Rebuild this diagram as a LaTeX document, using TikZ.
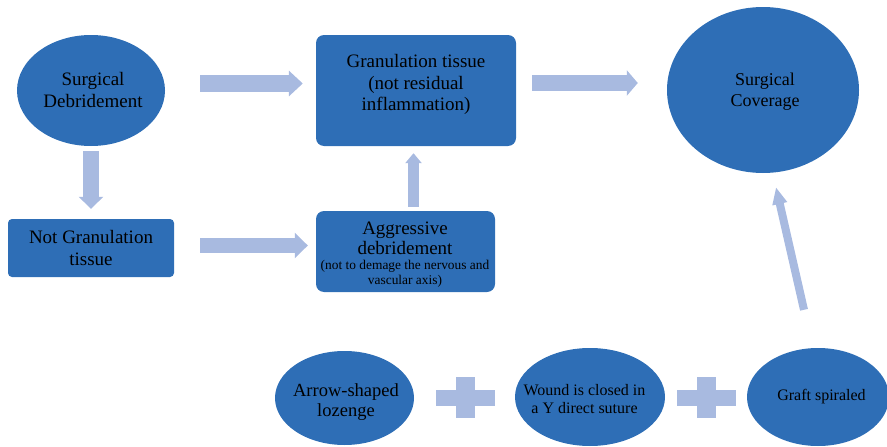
\documentclass[tikz,border=0pt]{standalone}
\usepackage{fontspec}
\setmainfont{Liberation Serif}
\usetikzlibrary{shapes.geometric,arrows.meta,calc}
\definecolor{boxblue}{RGB}{46,110,182}
\definecolor{arrowblue}{RGB}{168,186,224}
\begin{document}
\begin{tikzpicture}[x=1pt,y=-1pt,
  oval/.style={ellipse, fill=boxblue, inner sep=0pt},
  rbox/.style={rectangle, rounded corners=8pt, fill=boxblue, inner sep=0pt},
  txt/.style={align=center, text=black, inner sep=0pt},
  big/.style={font=\fontsize{19}{21.5}\selectfont},
  plusbar/.style={rectangle, fill=arrowblue, inner sep=0pt},
  barrow/.style n args={3}{draw=arrowblue, line width=#1pt, -{Triangle[width=#2pt,length=#3pt]}}
]
\useasboundingbox (0,0) rectangle (887,447);

% shapes
\node[oval, minimum width=148pt, minimum height=111pt] (e1) at (91,90.5) {};
\node[rbox, minimum width=200pt, minimum height=111pt] (g) at (416,90.5) {};
\node[oval, minimum width=192pt, minimum height=166pt] (cov) at (763,90) {};
\node[rbox, rounded corners=4pt, minimum width=166pt, minimum height=58pt] (ng) at (91,248) {};
\node[rbox, minimum width=179pt, minimum height=81pt] (ag) at (405.5,251.5) {};
\node[oval, minimum width=139pt, minimum height=94pt] (ea) at (344.5,398) {};
\node[oval, minimum width=150pt, minimum height=98pt] (eb) at (590,397) {};
\node[oval, minimum width=142pt, minimum height=98pt] (ec) at (818,397) {};

% texts
\node[txt, big] (e1t) at (93,90) {Surgical\\Debridement};
\node[txt, big] (gt) at (416,84.5) {Granulation tissue\\(not residual\\inflammation)};
\node[txt, font=\fontsize{18}{21}\selectfont] (covt) at (765,92) {Surgical\\Coverage};
\node[txt, big] (ngt) at (91,248) {Not Granulation\\tissue};
\node[txt, font=\fontsize{19}{20}\selectfont] (agt1) at (405,238) {Aggressive\\debridement};
\node[txt, font=\fontsize{13.4}{15}\selectfont] (agt2) at (405,273.5) {(not to demage the nervous and\\vascular axis)};
\node[txt, font=\fontsize{18.5}{20}\selectfont] (eat) at (346,402) {Arrow-shaped\\lozenge};
\node[txt, font=\fontsize{16}{18}\selectfont] (ebt) at (584.5,399) {Wound is closed in\\a Y direct suture};
\node[txt, font=\fontsize{16}{18}\selectfont] (ect) at (821.5,397) {Graft spiraled};

% plus signs
\node[plusbar, minimum width=59pt, minimum height=16pt] (p1h) at (465.5,397.5) {};
\node[plusbar, minimum width=19pt, minimum height=41pt] (p1v) at (465.5,397.5) {};
\node[plusbar, minimum width=59pt, minimum height=16pt] (p2h) at (706.5,397.5) {};
\node[plusbar, minimum width=19pt, minimum height=41pt] (p2v) at (706.5,397.5) {};

% arrows
\draw[barrow={17}{25}{14}] ($(e1.east)+(35,-7)$) -- ($(g.west)+(-13,-7)$);
\draw[barrow={16}{25}{11}] ($(g.east)+(16,-7.5)$) -- ($(cov.west)+(-29,-7)$);
\draw[barrow={16}{24}{12}] ($(e1.south)+(0,5)$) -- ($(ng.north)+(0,-10)$);
\draw[barrow={15}{25}{13}] ($(ng.east)+(26,-2.5)$) -- ($(ag.west)+(-8,-6)$);
\draw[barrow={11}{16}{10}] ($(ag.north)+(8,-4)$) -- ($(g.south)+(-2.5,7)$);
\draw[barrow={8}{14}{17}] ($(ec.north)+(-14,-38)$) -- ($(cov.south)+(13,14)$);
\end{tikzpicture}
\end{document}
